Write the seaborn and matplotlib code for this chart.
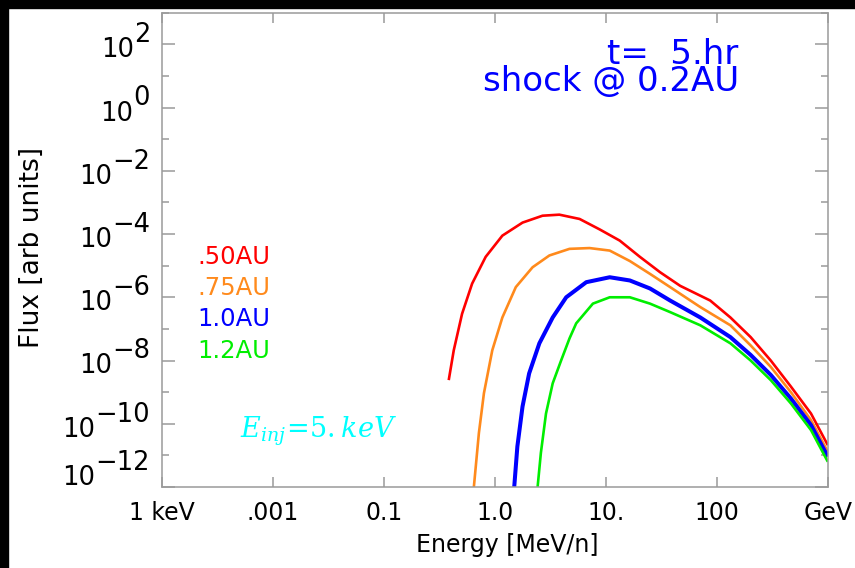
import matplotlib
matplotlib.use("Agg")
import matplotlib.pyplot as plt
import seaborn as sns
import pandas as pd
from matplotlib.patches import Rectangle

# spectra: energy [MeV/n] and flux [arb units]
energy_50 = [0.383, 0.425, 0.505, 0.622, 0.824, 1.165, 1.77, 2.68, 3.80, 5.78, 8.77,
             13.3, 20.2, 30.7, 46.6, 86.8, 132, 201, 305, 463, 703, 996]
flux_50 = [2.4e-9, 2.1e-8, 3.0e-7, 2.7e-6, 1.9e-5, 8.9e-5, 2.3e-4, 3.8e-4, 4.1e-4, 3.0e-4, 1.4e-4,
           6.2e-5, 1.9e-5, 6.2e-6, 2.3e-6, 7.9e-7, 2.3e-7, 5.5e-8, 1.0e-8, 1.5e-9, 2.1e-10, 2.1e-11]

energy_75 = [0.645, 0.716, 0.795, 0.945, 1.165, 1.54, 2.18, 3.09, 4.69, 7.11, 10.8,
             16.4, 24.9, 37.8, 70.7, 132, 201, 305, 463, 703, 996]
flux_75 = [1.0e-12, 5.1e-11, 9.3e-10, 2.1e-8, 2.3e-7, 2.1e-6, 8.9e-6, 2.1e-5, 3.4e-5, 3.6e-5, 3.0e-5,
           1.4e-5, 5.5e-6, 2.1e-6, 4.9e-7, 1.3e-7, 3.0e-8, 6.3e-9, 1.0e-9, 1.3e-10, 1.3e-11]

energy_10 = [1.49, 1.59, 1.77, 2.03, 2.51, 3.31, 4.38, 6.64, 10.8, 16.4, 24.9,
             37.8, 70.7, 132, 201, 305, 463, 703, 996]
flux_10 = [1.0e-12, 1.9e-11, 3.5e-10, 3.9e-9, 3.5e-8, 2.3e-7, 1.0e-6, 3.0e-6, 4.3e-6, 3.4e-6, 1.9e-6,
           7.9e-7, 2.3e-7, 5.5e-8, 1.5e-8, 3.5e-9, 6.3e-10, 9.1e-11, 9.1e-12]

energy_12 = [2.42, 2.59, 2.88, 3.31, 3.94, 4.69, 5.39, 7.62, 10.8, 16.4, 24.9,
             37.8, 70.7, 132, 201, 305, 463, 703, 996]
flux_12 = [1.0e-12, 1.2e-11, 2.1e-10, 1.9e-9, 1.0e-8, 5.0e-8, 1.5e-7, 6.3e-7, 1.0e-6, 1.0e-6, 6.3e-7,
           3.4e-7, 1.3e-7, 3.5e-8, 1.0e-8, 2.4e-9, 4.4e-10, 6.3e-11, 6.3e-12]

series_names = [".50AU", ".75AU", "1.0AU", "1.2AU"]
series_colors = ["#ff0000", "#ff8a1c", "#0000ff", "#00ee00"]
series_widths = [1.9, 1.9, 2.9, 1.9]

x_ticks = [1e-3, 1e-2, 1e-1, 1e0, 1e1, 1e2, 1e3]
x_labels = ["1 keV", ".001", "0.1", "1.0", "10.", "100", "GeV"]
y_exps = [2, 0, -2, -4, -6, -8, -10, -12]

sns.set_style("white")
plt.rcParams["font.family"] = ["DejaVu Sans"]
plt.rcParams["mathtext.fontset"] = "dejavuserif"
plt.rcParams["text.color"] = "black"
plt.rcParams["axes.labelcolor"] = "black"

fig = plt.figure(figsize=(8.55, 5.68), dpi=100)
fig.patch.set_facecolor("white")
ax = fig.add_axes([162 / 855, 1 - 487 / 568, 666 / 855, 474.3 / 568])
ax.set_xscale("log")
ax.set_yscale("log")

spectra = [(energy_50, flux_50), (energy_75, flux_75), (energy_10, flux_10), (energy_12, flux_12)]
for (e, f), c, w in zip(spectra, series_colors, series_widths):
    df = pd.DataFrame({"energy": e, "flux": f})
    sns.lineplot(data=df, x="energy", y="flux", color=c, linewidth=w, ax=ax,
                 solid_joinstyle="round", solid_capstyle="butt")

ax.set_xlim(1e-3, 1e3)
ax.set_ylim(1e-12, 1e3)

# frame and ticks
for s in ax.spines.values():
    s.set_color("#9a9a9a")
    s.set_linewidth(1.1)
ax.set_xticks(x_ticks)
ax.set_xticklabels(x_labels)
ax.xaxis.set_minor_locator(matplotlib.ticker.NullLocator())
ax.set_yticks([10.0 ** e for e in y_exps])
ax.set_yticks([10.0 ** (e + 1) for e in y_exps], minor=True)
ax.set_yticklabels([])
ax.yaxis.set_minor_formatter(matplotlib.ticker.NullFormatter())
ax.tick_params(axis="x", which="major", direction="in", length=7, width=1.1, color="#9a9a9a",
               top=True, bottom=True, labelsize=17, pad=10, labelcolor="black")
ax.tick_params(axis="y", which="major", direction="in", length=9.5, width=1.1, color="#9a9a9a",
               left=True, right=True)
ax.tick_params(axis="y", which="minor", direction="in", length=5, width=1.1, color="#9a9a9a",
               left=True, right=True)

# y tick labels drawn with full size exponents
for e in y_exps:
    shift = 11.0 if e == -12 else 0.0
    ex = ax.annotate(str(e).replace("-", "\u2212"), xy=(0, 10.0 ** e),
                     xycoords=("axes fraction", "data"), xytext=(-8.6, 1.5 + shift),
                     textcoords="offset points", ha="right", va="baseline", fontsize=18.5,
                     color="black")
    ax.annotate("10", xy=(0, 0), xycoords=ex, xytext=(0, -6.5), textcoords="offset points",
                ha="right", va="baseline", fontsize=18.5, color="black")

ax.set_xlabel("Energy [MeV/n]", fontsize=17)
ax.xaxis.set_label_coords(0.518, -0.097)
ax.set_ylabel("Flux [arb units]", fontsize=19)
ax.yaxis.set_label_coords(-0.176, 0.505)

# annotations
ax.text(0.866, 0.835, "t=  5.hr\nshock @ 0.2AU", transform=ax.transAxes, color="#0000ff",
        fontsize=24.5, ha="right", va="baseline", multialignment="right", linespacing=0.78)
for name, c, y in zip(series_names, series_colors, [0.485, 0.42, 0.354, 0.287]):
    ax.text(0.162, y, name, transform=ax.transAxes, color=c, fontsize=17.5,
            ha="right", va="center")
ax.text(0.117, 0.105, r"$E_{inj}\!=\!5.keV$", transform=ax.transAxes, color="#00ffff",
        fontsize=19.5, ha="left", va="baseline")

# black border strips of the original screenshot
fig.add_artist(Rectangle((0, 0), 8 / 855, 1, transform=fig.transFigure, color="black", zorder=10))
fig.add_artist(Rectangle((0, 1 - 8 / 568), 1, 8 / 568, transform=fig.transFigure, color="black", zorder=10))

fig.savefig("out.png", dpi=100, facecolor="white")
